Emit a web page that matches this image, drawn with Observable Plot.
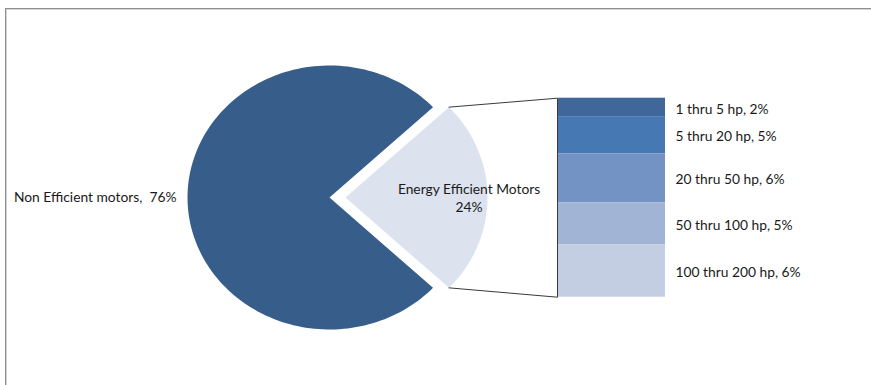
<!DOCTYPE html>
<html><head><meta charset="utf-8">
<script src="https://cdn.jsdelivr.net/npm/d3@7"></script>
<script src="https://cdn.jsdelivr.net/npm/@observablehq/plot@0.6"></script>
<style>
body{margin:0;background:#fff}
#wrap{position:relative;width:871px;height:385px;overflow:hidden}
#border{position:absolute;left:5px;top:8px;width:900px;height:400px;border-left:1px solid #8f8f8f;border-top:1px solid #8f8f8f;box-shadow:inset 1px 1px 0 #d4d4d4;pointer-events:none}
#wrap svg{position:absolute;left:0;top:0}
</style>
</head><body>
<div id="wrap"><div id="border"></div></div>
<script>
// ---- data ----
const pieCategories = ["Non Efficient motors", "Energy Efficient Motors"];
const pieValues = [76, 24];
const pieLabels = ["Non Efficient motors,  76%", "Energy Efficient Motors\n24%"];
const pieColors = ["#375D8A", "#DCE2EE"];

const barCategories = ["1 thru 5 hp", "5 thru 20 hp", "20 thru 50 hp", "50 thru 100 hp", "100 thru 200 hp"];
const barValues = [2.3, 4.4, 5.9, 5.1, 6.3];
const barLabels = ["1 thru 5 hp, 2%", "5 thru 20 hp, 5%", "20 thru 50 hp, 6%", "50 thru 100 hp, 5%", "100 thru 200 hp, 6%"];
const barColors = ["#40679A", "#4678B4", "#7293C4", "#A1B4D5", "#C3CEE3"];

// ---- layout ----
const W = 871, H = 385;
const cx = 337, cy = 197, rx = 142, ry = 132, explode = 8;
const barX1 = 558, barX2 = 665, barTop = 97.7, barHeight = 199;

const total = d3.sum(pieValues);
const effShare = pieValues[1] / total;
const start = Math.PI / 2 + Math.PI * effShare;
const arcs = d3.pie().sort(null).startAngle(start).endAngle(start + 2 * Math.PI)(pieValues);

const slices = arcs.map((a, i) => {
  const bis = (a.startAngle + a.endAngle) / 2;
  const ox = cx + explode * Math.sin(bis), oy = cy - explode * Math.cos(bis);
  const N = 160;
  const pts = [{x: ox, y: oy}];
  for (let k = 0; k <= N; k++) {
    const ang = a.startAngle + (a.endAngle - a.startAngle) * k / N;
    pts.push({x: ox + rx * Math.sin(ang), y: oy - ry * Math.cos(ang)});
  }
  pts.push({x: ox, y: oy});
  return {cat: pieCategories[i], color: pieColors[i], pts, ox, oy, a};
});

const light = slices[1];
const tip = ang => ({x: light.ox + rx * Math.sin(ang), y: light.oy - ry * Math.cos(ang)});
const topTip = tip(light.a.startAngle), botTip = tip(light.a.endAngle);

const barSum = d3.sum(barValues);
let cum = 0;
const bars = barValues.map((v, i) => {
  const y1 = barTop + cum / barSum * barHeight;
  cum += v;
  const y2 = barTop + cum / barSum * barHeight;
  return {cat: barCategories[i], label: barLabels[i], color: barColors[i], y1, y2};
});

const connector = [topTip, {x: barX1 - 1, y: barTop}, {x: barX1 - 1, y: barTop + barHeight}, botTip];

const font = "Lato, 'Open Sans', sans-serif";

const chart = Plot.plot({
  width: W, height: H, margin: 0,
  x: {domain: [0, W], range: [0, W], axis: null},
  y: {domain: [0, H], range: [0, H], axis: null},
  style: {fontFamily: font, fontSize: "13.8px", color: "#000", background: "transparent"},
  marks: [
    ...slices.map(s => Plot.line(s.pts, {x: "x", y: "y", fill: s.color, stroke: "none", curve: "linear-closed"})),
    Plot.rect(bars, {x1: barX1, x2: barX2, y1: "y1", y2: "y2", fill: "color"}),
    Plot.line(connector, {x: "x", y: "y", stroke: "#3a3a3a", strokeWidth: 1}),
    Plot.text([pieLabels[0]], {x: slices[0].ox - rx - 11, y: slices[0].oy, text: d => d, textAnchor: "end", fill: "#1a1a1a"}),
    Plot.text([pieLabels[1]], {x: light.ox + rx * 0.87, y: light.oy, text: d => d, textAnchor: "middle", lineHeight: 1.25, fill: "#1a1a1a"}),
    Plot.text(bars, {x: barX2 + 10, y: d => (d.y1 + d.y2) / 2 + 1.5, text: "label", textAnchor: "start", fill: "#1a1a1a"})
  ]
});
document.getElementById("wrap").appendChild(chart);
</script>
</body></html>
